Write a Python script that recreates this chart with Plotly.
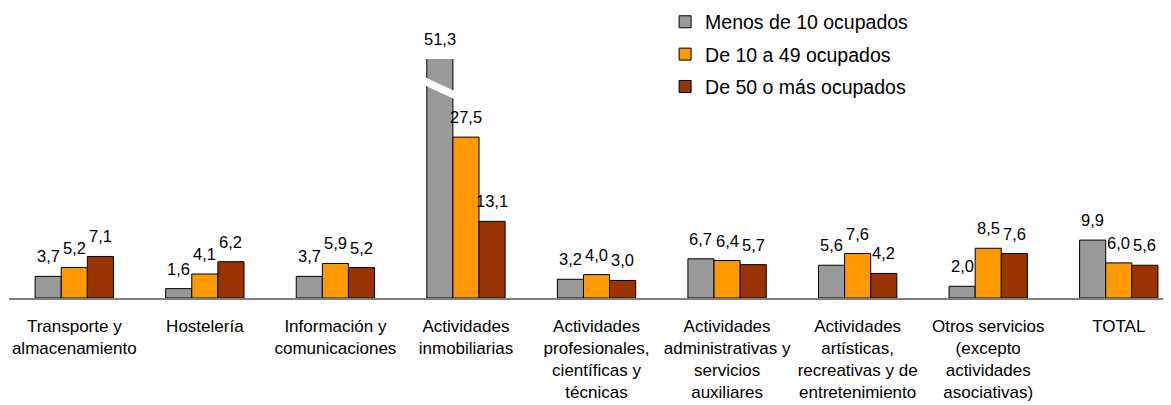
import plotly.graph_objects as go

categories = [
    "Transporte y<br>almacenamiento",
    "Hostelería",
    "Información y<br>comunicaciones",
    "Actividades<br>inmobiliarias",
    "Actividades<br>profesionales,<br>científicas y<br>técnicas",
    "Actividades<br>administrativas y<br>servicios<br>auxiliares",
    "Actividades<br>artísticas,<br>recreativas y de<br>entretenimiento",
    "Otros servicios<br>(excepto<br>actividades<br>asociativas)",
    "TOTAL",
]
menos_10 = [3.7, 1.6, 3.7, 51.3, 3.2, 6.7, 5.6, 2.0, 9.9]
de_10_49 = [5.2, 4.1, 5.9, 27.5, 4.0, 6.4, 7.6, 8.5, 6.0]
de_50_mas = [7.1, 6.2, 5.2, 13.1, 3.0, 5.7, 4.2, 7.6, 5.6]

series_names = ["Menos de 10 ocupados", "De 10 a 49 ocupados", "De 50 o más ocupados"]
series_values = [menos_10, de_10_49, de_50_mas]
colors = ["#999999", "#FF9900", "#993300"]

Y_MAX = 40.85  # axis cut (the tallest bar is broken)
FONT = "Liberation Sans, Arial, sans-serif"

fig = go.Figure()
idx = list(range(len(categories)))
for k, (name, vals, col) in enumerate(zip(series_names, series_values, colors)):
    fig.add_trace(go.Bar(
        x=idx, y=vals, name=name, marker=dict(color=col, line=dict(color="#000000", width=1)),
        legendgroup=name, cliponaxis=True,
    ))

bar_w = 0.6 / 3
annotations = []
for k, vals in enumerate(series_values):
    off = (k - 1) * bar_w
    for i, v in enumerate(vals):
        yv = min(v, Y_MAX)
        annotations.append(dict(
            x=i + off, y=yv, xref="x", yref="y", text=f"{v:.1f}".replace(".", ","),
            showarrow=False, yanchor="bottom", yshift=9,
            font=dict(family=FONT, size=16.5, color="#000000"),
        ))

# break mark on the cut bar
shapes = []
for i, v in enumerate(menos_10):
    if v > Y_MAX:
        xc = i - bar_w
        x0, x1 = xc - 0.13, xc + 0.13
        ya, yb, h = 37.9, 35.2, 1.4
        shapes.append(dict(
            type="path", xref="x", yref="y",
            path=f"M {x0},{ya} L {x1},{yb} L {x1},{yb - h} L {x0},{ya - h} Z",
            fillcolor="white", line=dict(width=0), layer="above",
        ))

fig.update_layout(
    width=1163, height=397,
    margin=dict(l=1, r=0, t=51, b=107, autoexpand=False),
    paper_bgcolor="white", plot_bgcolor="white",
    barmode="group", bargap=0.4, bargroupgap=0,
    font=dict(family=FONT, size=17, color="#000000"),
    showlegend=True,
    legend=dict(x=0.565, y=1.236, xref="container", yref="paper",
                xanchor="left", yanchor="top",
                font=dict(family=FONT, size=19.5), tracegroupgap=4,
                bgcolor="rgba(0,0,0,0)"),
    annotations=annotations,
    shapes=shapes,
)
fig.update_xaxes(
    tickmode="array", tickvals=idx, ticktext=categories,
    range=[-0.5, 8.40], showline=True, linecolor="#808080", linewidth=1.5,
    ticks="", showgrid=False, zeroline=False, ticklabelstandoff=12,
    tickfont=dict(family=FONT, size=17), tickangle=0, automargin=False,
)
fig.update_yaxes(range=[0, Y_MAX], visible=False, showgrid=False, zeroline=False,
                 automargin=False)

fig.write_html("out.html")
